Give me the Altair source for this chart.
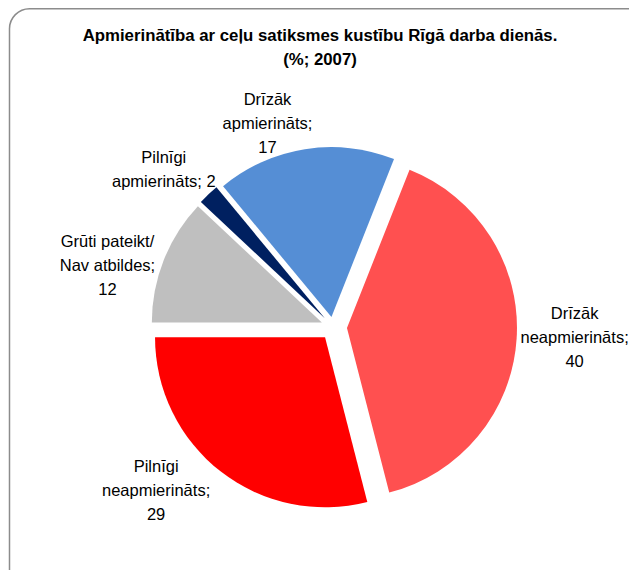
import math
import altair as alt
import pandas as pd

# ---- data ----
CATEGORIES = [
    "Pilnīgi apmierināts",
    "Drīzāk apmierināts",
    "Drīzāk neapmierināts",
    "Pilnīgi neapmierināts",
    "Grūti pateikt/ Nav atbildes",
]
VALUES = [2, 17, 40, 29, 12]
LABEL_LINES = [
    "Pilnīgi\napmierināts;",
    "Drīzāk\napmierināts;",
    "Drīzāk\nneapmierināts;",
    "Pilnīgi\nneapmierināts;",
    "Grūti pateikt/\nNav atbildes;",
]
VALUE_SEP = [" ", "\n", "\n", "\n", "\n"]
TITLE = "Apmierinātība ar ceļu satiksmes kustību Rīgā darba dienās.\n(%; 2007)"

# ---- styles ----
COLORS = ["#002060", "#558ED5", "#FF5050", "#FF0000", "#BFBFBF"]
EXPLODE = [12, 10, 14, 13, 12]          # slice explosion, px
LABEL_NUDGE_X = [2, -28, -10, -23, 7]   # manual label placement tweaks, px
LABEL_NUDGE_Y = [0, 20, -3, -17, 23]

W, H = 621, 562
CX, CY, R = 325, 319, 170
START = math.radians(313.2)
FONT = "Liberation Sans"
TOTAL = sum(VALUES)
LINE_H = 24

labels = [l + s + str(v) for l, s, v in zip(LABEL_LINES, VALUE_SEP, VALUES)]
df = pd.DataFrame({
    "category": CATEGORIES,
    "value": VALUES,
    "order": list(range(len(CATEGORIES))),
    "label": labels,
    "explode": EXPLODE,
    "ndx": LABEL_NUDGE_X,
    "ndy": LABEL_NUDGE_Y,
    "maxlen": [max(len(x) for x in t.split("\n")) for t in labels],
    "nlines": [len(t.split("\n")) for t in labels],
})

base = (
    alt.Chart(df)
    .transform_stack(stack="value", groupby=[], as_=["t0", "t1"],
                     sort=[alt.SortField("order", order="ascending")])
    .transform_joinaggregate(total="sum(value)")
    .transform_calculate(mid=f"{START} + (datum.t0 + datum.t1) / 2 / datum.total * 2 * PI")
    .transform_calculate(
        cx=f"{CX} + datum.explode * sin(datum.mid)",
        cy=f"{CY} - datum.explode * cos(datum.mid)",
    )
    .transform_calculate(
        lx=f"datum.cx + ({R} + 10 + datum.maxlen * 4.15) * sin(datum.mid) + datum.ndx",
        ly=(f"datum.cy - ({R} + 10) * cos(datum.mid) - datum.nlines * 12 * cos(datum.mid)"
            f" + datum.ndy - (datum.nlines - 1) * {LINE_H / 2}"),
    )
)

arcs = base.mark_arc(outerRadius=R).encode(
    theta=alt.Theta("t0:Q", scale=alt.Scale(domain=[0, TOTAL], range=[START, START + 2 * math.pi])),
    theta2="t1:Q",
    x=alt.X("cx:Q", scale=None, axis=None),
    y=alt.Y("cy:Q", scale=None, axis=None),
    color=alt.Color("category:N", scale=alt.Scale(domain=CATEGORIES, range=COLORS), legend=None),
)

texts = base.mark_text(
    lineBreak="\n", align="center", baseline="middle", fontSize=16.5,
    font=FONT, lineHeight=LINE_H, color="black",
).encode(
    x=alt.X("lx:Q", scale=None, axis=None),
    y=alt.Y("ly:Q", scale=None, axis=None),
    text="label:N",
)

title = alt.Chart(pd.DataFrame({"t": [TITLE]})).mark_text(
    lineBreak="\n", align="center", baseline="middle", fontSize=16.8,
    font=FONT, fontWeight="bold", lineHeight=LINE_H, color="black",
).encode(x=alt.value(312), y=alt.value(28), text="t:N")

frame = alt.Chart(pd.DataFrame({"a": [0]})).mark_rect(
    fillOpacity=0, stroke="#8c8c8c", strokeWidth=1.5, cornerRadius=20,
).encode(x=alt.value(1.5), x2=alt.value(660), y=alt.value(0.75), y2=alt.value(620))

chart = (
    alt.layer(frame, arcs, texts, title)
    .properties(width=W, height=H, autosize="none", padding=0)
    .configure_view(strokeWidth=0)
)

chart.save("out.html", embed_options={"renderer": "svg", "actions": False})
